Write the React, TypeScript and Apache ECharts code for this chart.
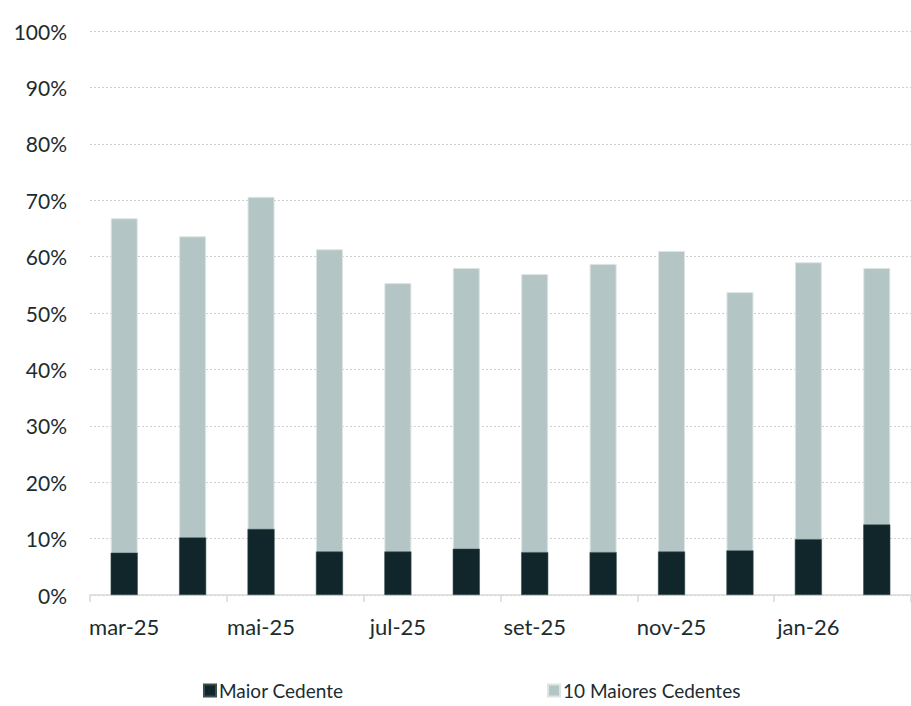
import React, { useEffect, useRef } from "react";
import * as echarts from "echarts";

const categories = [
  "mar-25", "abr-25", "mai-25", "jun-25", "jul-25", "ago-25",
  "set-25", "out-25", "nov-25", "dez-25", "jan-26", "fev-26",
];
const maiorCedente = [7.5, 10.2, 11.7, 7.7, 7.7, 8.2, 7.6, 7.6, 7.7, 7.9, 9.9, 12.5];
const dezMaiores = [66.8, 63.6, 70.6, 61.3, 55.3, 58.0, 56.9, 58.7, 61.0, 53.7, 59.0, 58.0];

const DARK = "#10262b";
const LIGHT = "#b3c5c4";
const TEXT = "#1b2c30";
const FONT = "Lato, 'Open Sans', sans-serif";

export default function App() {
  const ref = useRef<HTMLDivElement>(null);
  useEffect(() => {
    if (!ref.current) return;
    const chart = echarts.init(ref.current, undefined, { renderer: "svg" });
    const legendText = { fontFamily: FONT, fontSize: 19, color: TEXT, padding: [0, 0, 0, -2] };
    chart.setOption({
      animation: false,
      textStyle: { fontFamily: FONT, color: TEXT },
      grid: { left: 90, right: -3, top: 31, bottom: 111, containLabel: false },
      legend: [
        {
          data: ["Maior Cedente"],
          left: 198,
          top: 676,
          itemWidth: 12,
          itemHeight: 12,
          icon: "rect",
          itemGap: 0,
          textStyle: legendText,
        },
        {
          data: ["10 Maiores Cedentes"],
          left: 542,
          top: 676,
          itemWidth: 12,
          itemHeight: 12,
          icon: "rect",
          itemGap: 0,
          textStyle: legendText,
        },
      ],
      xAxis: {
        type: "category",
        data: categories,
        axisLine: { lineStyle: { color: "#d9d9d9", width: 1.5 } },
        axisTick: {
          show: true,
          interval: 1,
          alignWithLabel: false,
          length: 7,
          lineStyle: { color: "#d9d9d9", width: 1.5 },
        },
        axisLabel: {
          interval: 1,
          margin: 20,
          fontSize: 22,
          fontFamily: FONT,
          color: TEXT,
        },
      },
      yAxis: {
        type: "value",
        min: 0,
        max: 100,
        interval: 10,
        axisLine: { show: false },
        axisTick: { show: false },
        axisLabel: {
          formatter: "{value}%",
          margin: 23,
          fontSize: 21,
          fontFamily: FONT,
          color: TEXT,
        },
        splitLine: { lineStyle: { color: "#cfcfcf", type: [2, 2], width: 1.2 } },
      },
      series: [
        {
          name: "Maior Cedente",
          type: "bar",
          data: maiorCedente,
          barWidth: 27,
          barGap: "-100%",
          z: 3,
          itemStyle: { color: DARK, borderColor: "#3a4e52", borderWidth: 0.5 },
        },
        {
          name: "10 Maiores Cedentes",
          type: "bar",
          data: dezMaiores,
          barWidth: 27,
          barGap: "-100%",
          z: 2,
          itemStyle: { color: LIGHT, borderColor: "#dde5e4", borderWidth: 1 },
        },
      ],
    });
    return () => chart.dispose();
  }, []);
  return (
    <div
      ref={ref}
      style={{ position: "absolute", left: 0, top: 0, width: 911, height: 706 }}
    />
  );
}
